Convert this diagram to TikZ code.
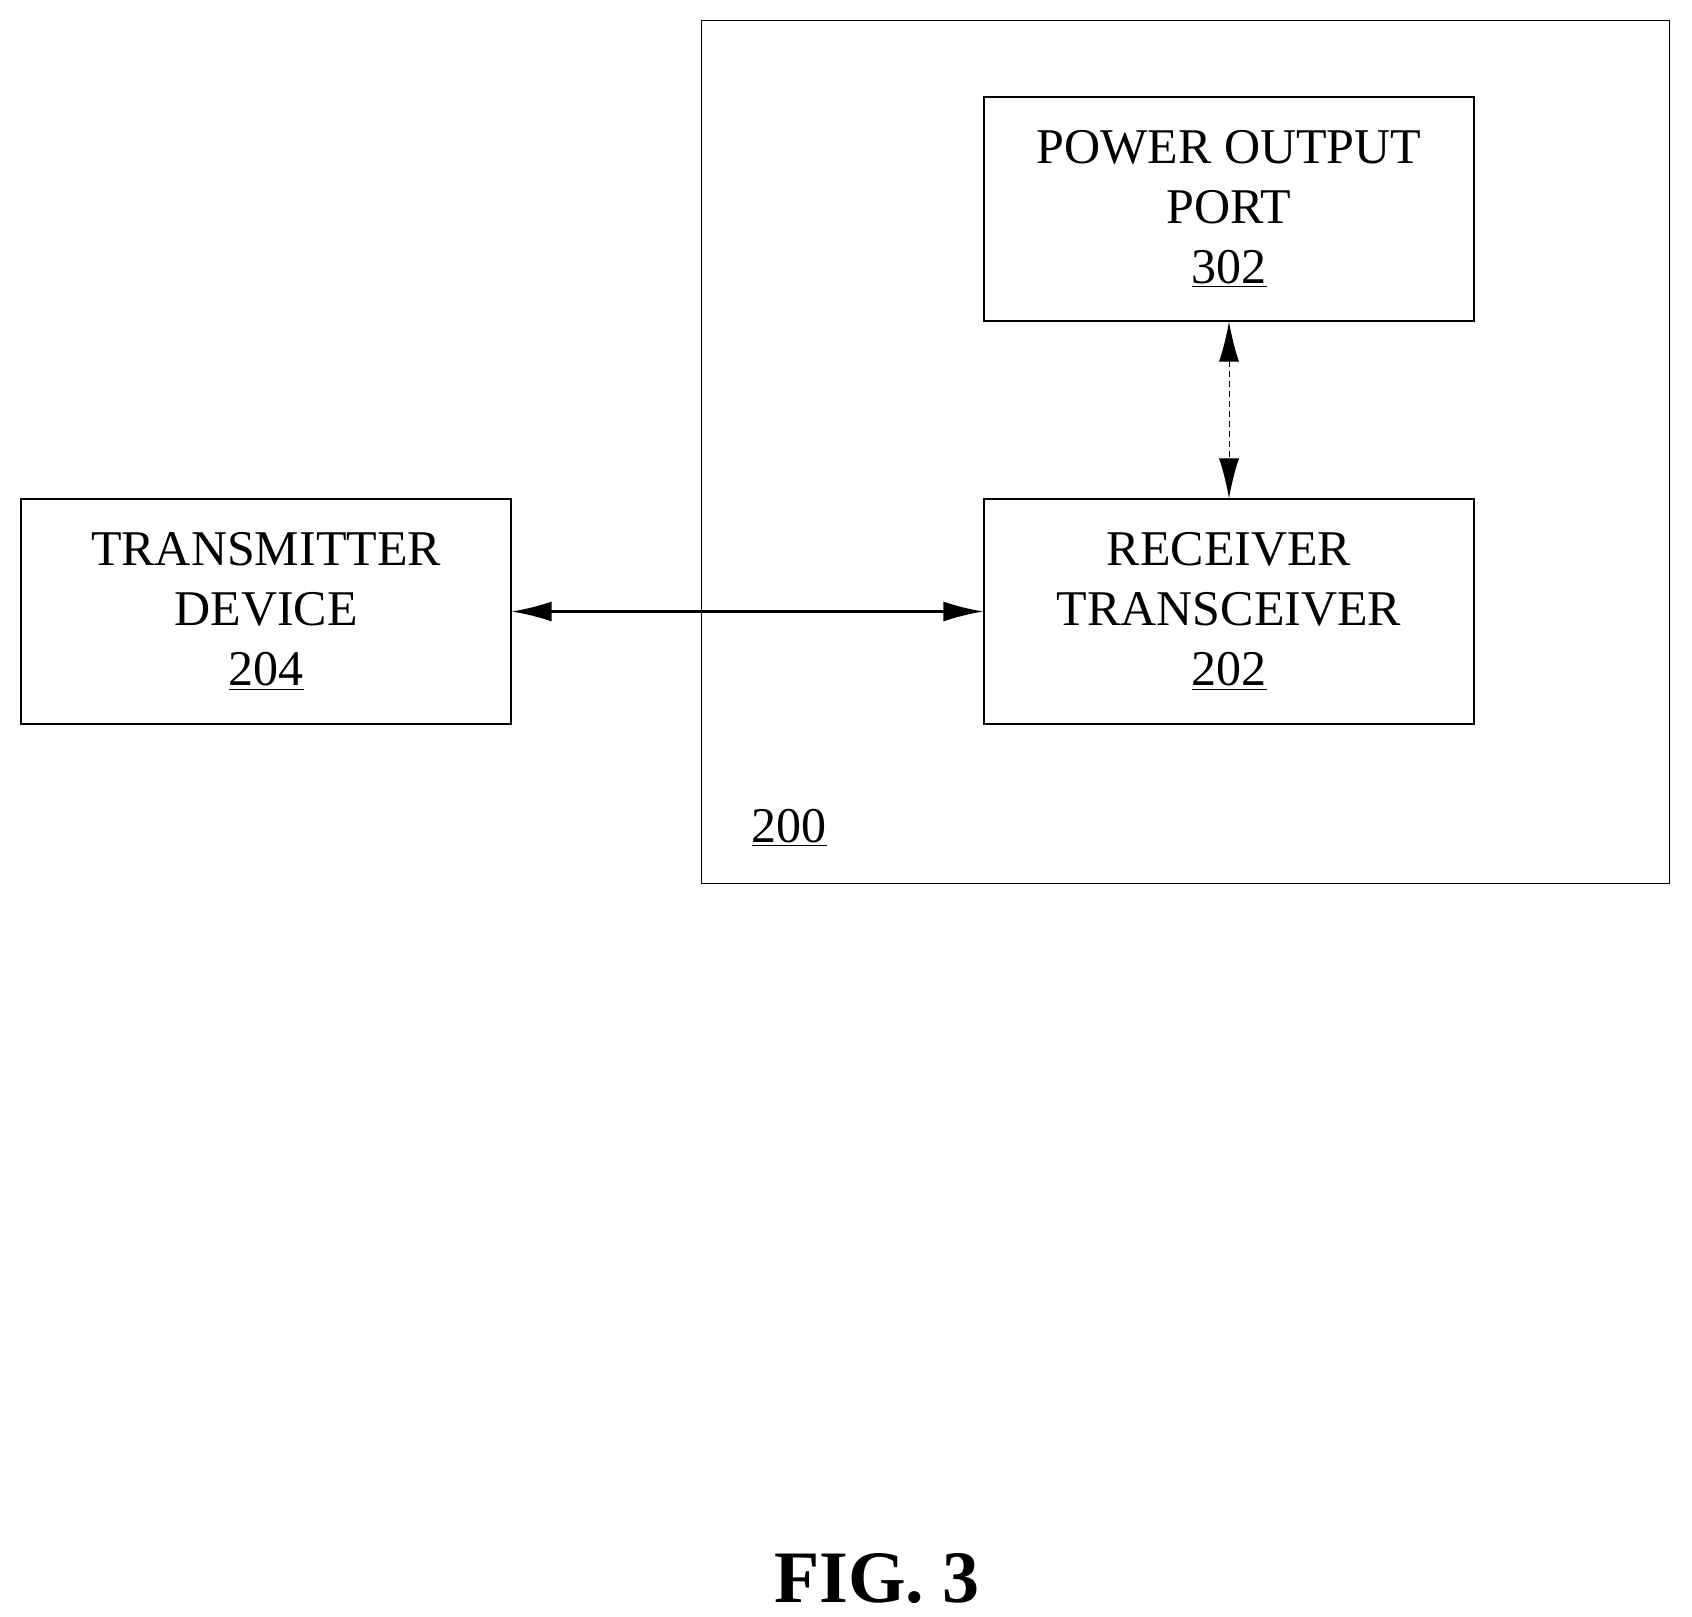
\documentclass[tikz,border=0pt]{standalone}
\usepackage{fontspec}
\setmainfont{Liberation Serif}
\usetikzlibrary{arrows.meta}
\begin{document}
\begin{tikzpicture}[x=0.5pt,y=-0.5pt,
  box/.style={draw,line width=0.6pt,align=center,font=\fontsize{25}{30}\selectfont},
  arr/.style={line width=1.1pt,{Latex[length=20pt,width=10pt]}-{Latex[length=20pt,width=10pt]}}]
\useasboundingbox (0,0) rectangle (1692,1617);
\node[draw,line width=0.6pt,minimum width=484pt,minimum height=431.5pt,anchor=north west] (outer) at (701,20) {};
\node[box,minimum width=245pt,minimum height=112.5pt] (tx) at (266,611.5) {TRANSMITTER\\DEVICE\\\underline{204}};
\node[box,minimum width=245pt,minimum height=112.5pt] (rx) at (1229,611.5) {RECEIVER\\TRANSCEIVER\\\underline{202}};
\node[box,minimum width=245pt,minimum height=112pt] (pw) at (1229,209) {POWER OUTPUT\\PORT\\\underline{302}};
\node[font=\fontsize{25}{30}\selectfont] (l200) at (789,828) {\underline{200}};
\node[font=\bfseries\fontsize{37}{40}\selectfont] (fig) at (877,1579) {FIG. 3};
\draw[arr] (tx.east) -- (rx.west);
\draw[arr,densely dashed,line width=0.5pt] (pw.south) -- (rx.north);
\end{tikzpicture}
\end{document}
